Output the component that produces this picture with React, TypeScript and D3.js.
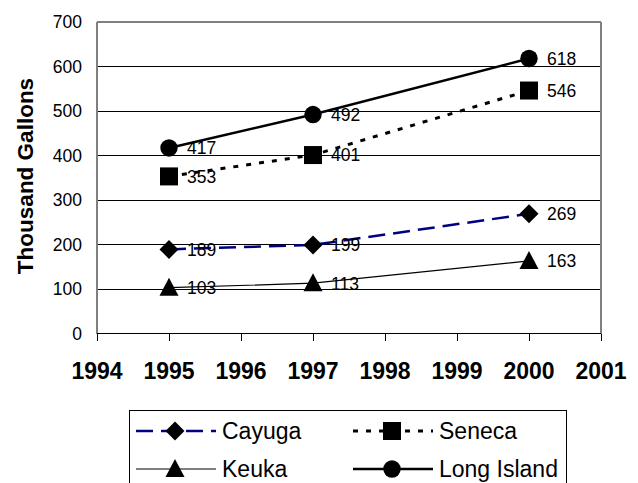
import React from "react";
import * as d3 from "d3";

const years = [1995, 1997, 2000];
const cayuga = [189, 199, 269];
const seneca = [353, 401, 546];
const keuka = [103, 113, 163];
const longIsland = [417, 492, 618];
const xTicks = [1994, 1995, 1996, 1997, 1998, 1999, 2000, 2001];
const yTicks = [0, 100, 200, 300, 400, 500, 600, 700];
const yTitle = "Thousand Gallons";

const FONT = "'Liberation Sans', Arial, sans-serif";

type Shape = "diamond" | "square" | "triangle" | "circle";

const seriesList: { name: string; values: number[]; color: string; width: number; dash?: string; shape: Shape }[] = [
  { name: "Cayuga", values: cayuga, color: "#000080", width: 2.5, dash: "17,8", shape: "diamond" },
  { name: "Seneca", values: seneca, color: "#000", width: 3, dash: "5,8", shape: "square" },
  { name: "Keuka", values: keuka, color: "#000", width: 1.2, shape: "triangle" },
  { name: "Long Island", values: longIsland, color: "#000", width: 2.5, shape: "circle" },
];

function Marker({ shape, x, y }: { shape: Shape; x: number; y: number }) {
  if (shape === "circle") return <circle cx={x} cy={y} r={8.7} fill="#000" />;
  if (shape === "square") return <rect x={x - 9} y={y - 9} width={18} height={18} fill="#000" />;
  if (shape === "diamond")
    return <path d={`M${x},${y - 9.5}L${x + 9.5},${y}L${x},${y + 9.5}L${x - 9.5},${y}Z`} fill="#000" />;
  return <path d={`M${x},${y - 10}L${x + 9.5},${y + 8}L${x - 9.5},${y + 8}Z`} fill="#000" />;
}

export default function App() {
  const W = 638, H = 483;
  const x = d3.scaleLinear().domain([1994, 2001]).range([97, 601]);
  const y = d3.scaleLinear().domain([0, 700]).range([333.5, 22]);
  const line = d3.line<number>();

  const legendItems = [
    { s: seriesList[0], lx: 136, row: 431 },
    { s: seriesList[1], lx: 353, row: 431 },
    { s: seriesList[2], lx: 136, row: 469 },
    { s: seriesList[3], lx: 353, row: 469 },
  ];

  return (
    <svg width={W} height={H} style={{ position: "absolute", left: 0, top: 0, background: "#fff" }} fontFamily={FONT}>
      <rect width={W} height={H} fill="#fff" />
      {yTicks.slice(1, -1).map((t) => (
        <line key={t} x1={x(1994)} x2={x(2001)} y1={y(t)} y2={y(t)} stroke="#000" strokeWidth={1} shapeRendering="crispEdges" />
      ))}
      <line x1={x(1994)} x2={x(2001)} y1={y(700)} y2={y(700)} stroke="#808080" strokeWidth={1.2} shapeRendering="crispEdges" />
      <line x1={x(1994)} x2={x(1994)} y1={y(700)} y2={y(0)} stroke="#808080" strokeWidth={1.2} shapeRendering="crispEdges" />
      <line x1={x(2001)} x2={x(2001)} y1={y(700)} y2={y(0)} stroke="#808080" strokeWidth={1.2} shapeRendering="crispEdges" />
      <line x1={x(1994)} x2={x(2001)} y1={y(0)} y2={y(0)} stroke="#000" strokeWidth={1} shapeRendering="crispEdges" />
      {xTicks.map((t) => (
        <g key={t}>
          <line x1={x(t)} x2={x(t)} y1={y(0)} y2={y(0) + 7} stroke="#000" strokeWidth={1} shapeRendering="crispEdges" />
          <text x={x(t)} y={378.5} textAnchor="middle" fontSize={23} fontWeight="bold" fill="#000">{t}</text>
        </g>
      ))}
      {yTicks.map((t) => (
        <text key={t} x={82} y={y(t) + 6} textAnchor="end" fontSize={17.5} fill="#000">{t}</text>
      ))}
      <text transform="translate(33,176) rotate(-90)" textAnchor="middle" fontSize={22.5} fontWeight="bold" fill="#000">{yTitle}</text>

      {seriesList.map((s) => (
        <path
          key={s.name}
          d={line(s.values.map((v, i) => [x(years[i]), y(v)] as [number, number])) || ""}
          fill="none"
          stroke={s.color}
          strokeWidth={s.width}
          strokeDasharray={s.dash}
        />
      ))}
      {seriesList.map((s) => (
        <g key={s.name + "m"}>
          {s.values.map((v, i) => (
            <g key={i}>
              <Marker shape={s.shape} x={x(years[i])} y={y(v)} />
              <text x={x(years[i]) + 18} y={y(v) + 6.3} fontSize={17.5} fill="#000">{v}</text>
            </g>
          ))}
        </g>
      ))}

      <rect x={129.5} y={410.5} width={437} height={100} fill="none" stroke="#000" strokeWidth={1} />
      {legendItems.map(({ s, lx, row }) => (
        <g key={s.name + "l"}>
          <line x1={lx} x2={lx + 80} y1={row} y2={row} stroke={s.color} strokeWidth={s.width} strokeDasharray={s.dash} />
          <Marker shape={s.shape} x={lx + 39} y={row} />
          <text x={lx + 86} y={row + 8.3} fontSize={23} fill="#000">{s.name}</text>
        </g>
      ))}
    </svg>
  );
}
